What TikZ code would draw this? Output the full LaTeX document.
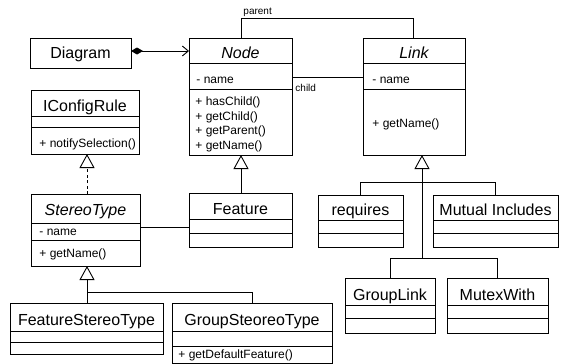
\documentclass[tikz,border=0pt]{standalone}
\usepackage{fontspec}
\setmainfont{Liberation Sans}
\usetikzlibrary{arrows.meta}
\newcommand\klass[7]{%
  \pgfmathsetmacro\kw{#4-#2}\pgfmathsetmacro\kh{#5-#3}%
  \node[cls, minimum width=\kw pt, minimum height=\kh pt, anchor=north west] (#1) at (#2,#3) {};
  \draw (#2,#6) -- (#4,#6) (#2,#7) -- (#4,#7);
}
\begin{document}
\begin{tikzpicture}[x=1pt,y=-1pt, line width=0.9pt,
  cls/.style={draw, inner sep=0pt, outer sep=0pt},
  ttl/.style={font=\fontsize{16}{19}\selectfont, inner sep=0pt, anchor=base},
  ittl/.style={font=\fontsize{16}{19}\selectfont\itshape, inner sep=0pt, anchor=base},
  mem/.style={font=\fontsize{12}{14}\selectfont, inner sep=0pt, anchor=base west},
  lbl/.style={font=\fontsize{10}{12}\selectfont, inner sep=0pt, anchor=base west},
  gen/.style={-{Triangle[open,length=14pt,width=15pt]}},
  real/.style={dash pattern=on 3pt off 2.5pt, -{Triangle[open,length=14pt,width=15pt]}},
  comp/.style={{Diamond[length=12pt,width=7pt]}-{Straight Barb[length=6pt,width=10pt]}}]
\useasboundingbox (0,0) rectangle (566,364);

% Diagram
\node[cls, minimum width=101pt, minimum height=30pt, anchor=north west] (Diagram) at (30,38) {};
\node[ttl] (tDiagram) at (80.5,59) {Diagram};

% Node
\klass{Node}{189}{38}{292}{155}{63}{89}
\node[ittl] (tNode) at (240.5,59) {Node};
\node[mem] (mNode1) at (196,83) {- name};
\node[mem] (mNode2) at (195,105) {+ hasChild()};
\node[mem] (mNode3) at (195,120) {+ getChild()};
\node[mem] (mNode4) at (195,134) {+ getParent()};
\node[mem] (mNode5) at (195,149) {+ getName()};

% Link
\klass{Link}{363}{38}{465}{155}{63}{89}
\node[ittl] (tLink) at (414,59) {Link};
\node[mem] (mLink1) at (372,83) {- name};
\node[mem] (mLink2) at (372,127) {+ getName()};

% IConfigRule
\klass{IConfigRule}{31}{90}{139}{154}{116}{127}
\node[ttl] (tIConfigRule) at (85,111) {IConfigRule};
\node[mem] (mIConfigRule) at (39,147) {+ notifySelection()};

% StereoType
\klass{StereoType}{31}{194}{140}{266}{223}{240}
\node[ittl] (tStereoType) at (85.5,215) {StereoType};
\node[mem] (mStereo1) at (39,235) {- name};
\node[mem] (mStereo2) at (39,257) {+ getName()};

% Feature
\klass{Feature}{189}{193}{292}{247}{219}{233}
\node[ttl] (tFeature) at (240.5,214) {Feature};

% requires
\klass{requires}{318}{195}{403}{247}{220}{233}
\node[ttl] (trequires) at (360.5,215) {requires};

% Mutual Includes
\klass{Mutual}{433}{195}{558}{247}{220}{233}
\node[ttl] (tMutual) at (495.5,215) {Mutual Includes};

% GroupLink
\klass{GroupLink}{345}{278}{435}{333}{305}{318}
\node[ttl] (tGroupLink) at (390,300) {GroupLink};

% MutexWith
\klass{MutexWith}{447}{278}{548}{333}{305}{318}
\node[ttl] (tMutexWith) at (497.5,300) {MutexWith};

% FeatureStereoType
\klass{FST}{10}{303}{163}{354}{331}{342}
\node[ttl] (tFST) at (86.5,325) {FeatureStereoType};

% GroupSteoreoType
\klass{GST}{172}{303}{332}{363}{331}{346}
\node[ttl] (tGST) at (252,325) {GroupSteoreoType};
\node[mem] (mGST) at (178,358) {+ getDefaultFeature()};

% connectors
\draw[comp] ([yshift=2pt]Diagram.east) -- ([yshift=2pt]Diagram.east -| Node.west);

\coordinate (pA) at (241,18);
\coordinate (pB) at (413,18);
\draw (Node.north -| pA) -- (pA) -- (pB) -- (Link.north -| pB);
\node[lbl] (lparent) at (243,14) {parent};

\coordinate (ch) at (300,77);
\draw (Node.east |- ch) -- (Link.west |- ch);
\node[lbl] (lchild) at (295,91) {child};

\coordinate (rx) at (87,0);
\draw[real] (StereoType.north -| rx) -- (IConfigRule.south -| rx);

\coordinate (fx) at (241,0);
\draw[gen] (Feature.north -| fx) -- (Node.south -| fx);

\coordinate (as) at (0,227);
\draw (StereoType.east |- as) -- (Feature.west |- as);

\coordinate (t1) at (422,182);
\coordinate (t2) at (422,258);
\draw[gen] (t2) -- (Link.south -| t2);
\draw (requires.north) |- (Mutual.north |- t1) -- (Mutual.north);
\draw (GroupLink.north) |- (MutexWith.north |- t2) -- (MutexWith.north);

\coordinate (s1) at (87,292);
\draw[gen] (FST.north -| s1) -- (StereoType.south -| s1);
\draw (s1) -| (GST.north);
\end{tikzpicture}
\end{document}
